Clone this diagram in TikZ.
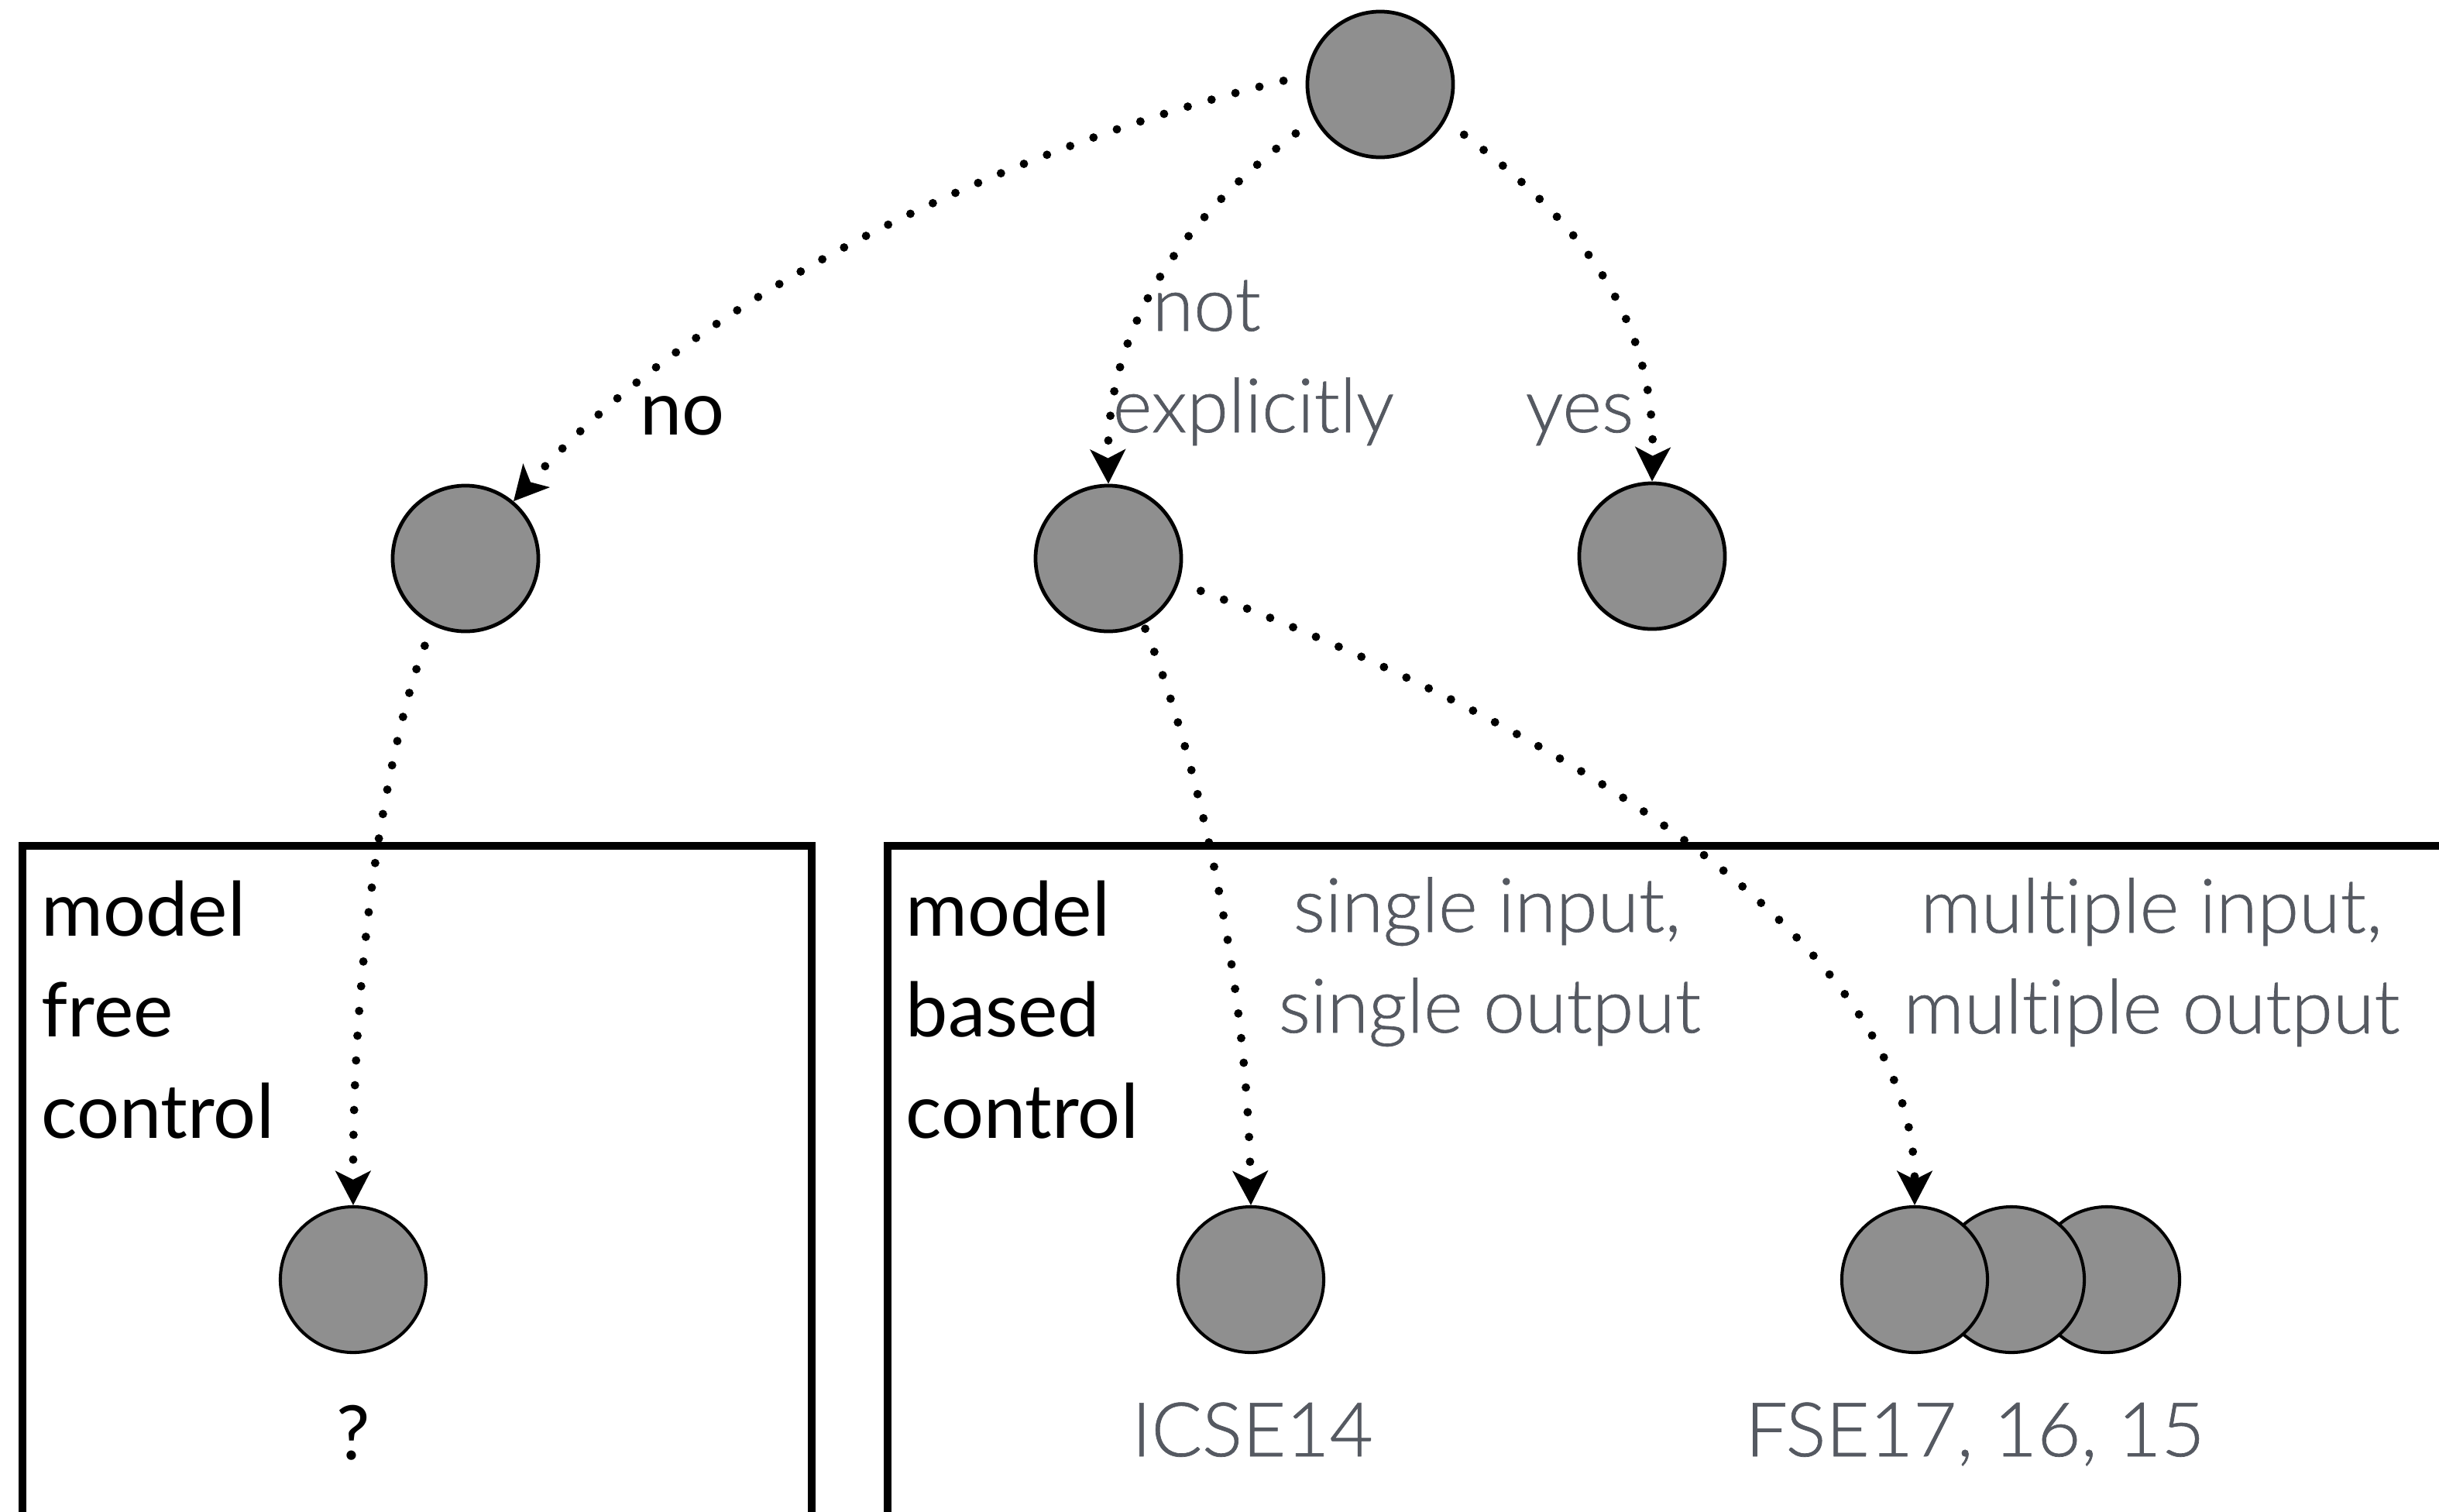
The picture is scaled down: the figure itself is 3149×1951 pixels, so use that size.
\documentclass[tikz,border=0pt]{standalone}
\usepackage{fontspec}
\setmainfont{Lato}
\newfontfamily\labelfont[FakeBold=0.7,Ligatures=NoCommon]{Lato Light}
\usetikzlibrary{arrows.meta}
\definecolor{nodefill}{RGB}{143,143,143}
\definecolor{labelgray}{RGB}{85,89,97}
\begin{document}
\begin{tikzpicture}[x=0.01cm,y=-0.01cm,
  state/.style={circle,draw=black,fill=nodefill,line width=1.35pt,minimum size=1.88cm,inner sep=0pt},
  leaf/.style={state,line width=1.15pt},
  link/.style={line width=3.1pt,line cap=round,dash pattern=on 0pt off 0.32cm,
    -{Stealth[length=0.44cm,width=0.45cm,inset=0.11cm]}},
  frame/.style={line width=3.1pt,line join=miter},
  txt/.style={font=\fontsize{27.6pt}{33pt}\selectfont,inner sep=0pt,anchor=base west},
  gtxt/.style={txt,font=\fontsize{27.6pt}{33pt}\labelfont,text=labelgray},
  ctxt/.style={txt,anchor=base},
]
\useasboundingbox (0,0) rectangle (3149,1951);
\clip (0,0) rectangle (3149,1951);

% frames around the two control families (open at the bottom / right)
\draw[frame] (29,2050) -- (29,1092) -- (1048,1092) -- (1048,2050);
\draw[frame] (1146,2050) -- (1146,1092) -- (3300,1092);

% tree nodes
\node[state] (root) at (1782,109) {};
\node[state] (lc) at (601,721) {};
\node[state] (mc) at (1431,721) {};
\node[state] (rc) at (2133,718) {};

% leaves
\node[leaf] (free) at (456,1652) {};
\node[leaf] (siso) at (1615,1652) {};
\node[leaf] (mimo3) at (2720,1652) {};
\node[leaf] (mimo2) at (2597,1652) {};
\node[leaf] (mimo1) at (2472,1652) {};

% branches
\draw[link,shorten <=0.3cm] (root.173) .. controls (1300,190) and (900,380) .. (lc.50);
\draw[link,shorten <=0.3cm] (root.208) .. controls (1530,280) and (1428,420) .. (mc.north);
\draw[link,shorten <=0.3cm] (root.331) .. controls (2030,280) and (2138,400) .. (rc.north);
\draw[link,shorten <=0.28cm] (lc.244) .. controls (510,930) and (455,1200) .. (free.north);
\draw[link,shorten <=0.06cm] (mc.298) .. controls (1540,960) and (1610,1250) .. (siso.north);
\draw[link,shorten <=0.3cm] (mc.341) .. controls (1973,920) and (2472,1200) .. (mimo1.north);

% branch labels
\node[txt] (lno) at (826,561) {no};
\node[gtxt] (lnot) at (1487,427) {not};
\node[gtxt] (lexp) at (1436,558) {explicitly};
\node[gtxt] (lyes) at (1969,558) {yes};

% frame titles
\node[txt] (mf1) at (53,1208) {model};
\node[txt] (mf2) at (53,1338) {free};
\node[txt] (mf3) at (53,1469) {control};
\node[txt] (mb1) at (1169,1208) {model};
\node[txt] (mb2) at (1169,1338) {based};
\node[txt] (mb3) at (1169,1469) {control};

% sub-category labels
\node[gtxt] (si1) at (1669,1203) {single input,};
\node[gtxt] (si2) at (1650,1333) {single output};
\node[gtxt] (mi1) at (2479,1204) {multiple input,};
\node[gtxt] (mi2) at (2457,1334) {multiple output};

% references below the leaves
\node[ctxt] (qm) at (456,1884) {?};
\node[ctxt,font=\fontsize{27.6pt}{33pt}\labelfont,text=labelgray] (icse) at (1617,1880) {ICSE14};
\node[ctxt,font=\fontsize{27.6pt}{33pt}\labelfont,text=labelgray] (fse) at (2550,1880) {FSE17, 16, 15};
\end{tikzpicture}
\end{document}
